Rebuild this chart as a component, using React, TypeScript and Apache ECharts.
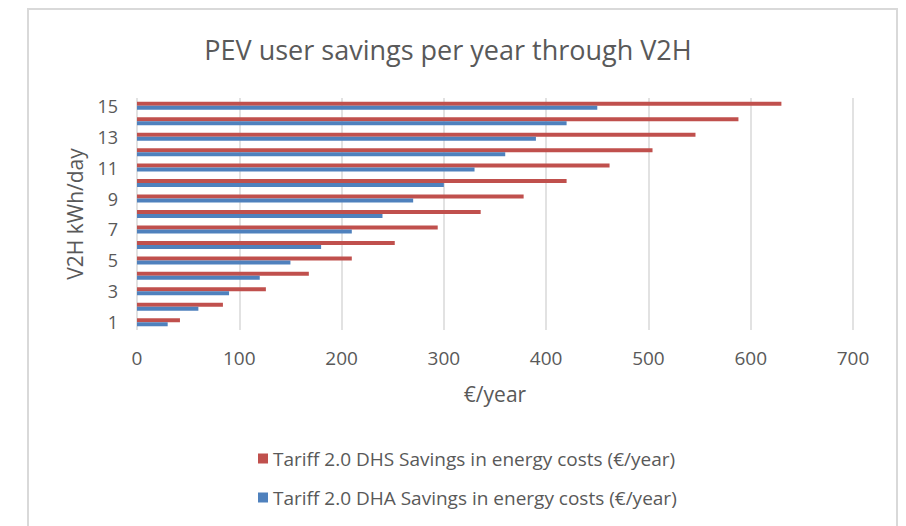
import React, { useEffect, useRef } from "react";
import * as echarts from "echarts";

const categories = ["1", "2", "3", "4", "5", "6", "7", "8", "9", "10", "11", "12", "13", "14", "15"];
const dhsSavings = [42, 84, 126, 168, 210, 252, 294, 336, 378, 420, 462, 504, 546, 588, 630];
const dhaSavings = [30, 60, 90, 120, 150, 180, 210, 240, 270, 300, 330, 360, 390, 420, 450];
const xTicks = [0, 100, 200, 300, 400, 500, 600, 700];

const DHS_NAME = "Tariff 2.0 DHS Savings in energy costs (€/year)";
const DHA_NAME = "Tariff 2.0 DHA Savings in energy costs (€/year)";

export default function App() {
  const ref = useRef<HTMLDivElement>(null);
  useEffect(() => {
    if (!ref.current) return;
    const chart = echarts.init(ref.current, null, { renderer: "svg" });
    const font = "'Open Sans', sans-serif";
    chart.setOption({
      animation: false,
      backgroundColor: "#ffffff",
      textStyle: { fontFamily: font },
      title: {
        text: "PEV user savings per year through V2H",
        left: 443,
        textAlign: "center",
        top: 31,
        textStyle: { fontSize: 27, fontWeight: "normal", color: "#595959", fontFamily: font },
      },
      graphic: [
        {
          type: "polyline",
          shape: { points: [[28, 540], [28, 9], [897, 9], [897, 540]] },
          style: { stroke: "#d9d9d9", lineWidth: 2, fill: "none" },
          silent: true,
        },
      ],
      legend: {
        orient: "vertical",
        left: 253,
        top: 444,
        itemWidth: 10,
        itemHeight: 10,
        itemGap: 20,
        icon: "rect",
        data: [DHS_NAME, DHA_NAME],
        textStyle: { fontSize: 19, color: "#595959", fontFamily: font },
      },
      grid: { left: 137, right: 53, top: 98, bottom: 196, containLabel: false },
      xAxis: {
        type: "value",
        min: 0,
        max: 700,
        interval: 100,
        name: "€/year",
        nameLocation: "middle",
        nameGap: 53,
        nameTextStyle: { fontSize: 21, color: "#595959", fontFamily: font },
        axisLine: { show: false },
        axisTick: { show: false },
        axisLabel: {
          fontSize: 19,
          color: "#595959",
          margin: 18,
          formatter: (v: number) => (xTicks.includes(v) ? String(v) : ""),
        },
        splitLine: { show: true, lineStyle: { color: "#d9d9d9", width: 1.5 } },
      },
      yAxis: {
        type: "category",
        data: categories,
        name: "V2H kWh/day",
        nameLocation: "middle",
        nameGap: 52,
        nameTextStyle: { fontSize: 21, color: "#595959", fontFamily: font },
        axisLine: { show: false },
        axisTick: { show: false },
        axisLabel: { fontSize: 18, color: "#595959", margin: 19, interval: 1 },
        splitLine: { show: false },
      },
      series: [
        {
          name: DHS_NAME,
          type: "bar",
          data: dhsSavings,
          barWidth: 4,
          barGap: "0%",
          itemStyle: { color: "#C0504D" },
        },
        {
          name: DHA_NAME,
          type: "bar",
          data: dhaSavings,
          barWidth: 4,
          barGap: "0%",
          itemStyle: { color: "#4F81BD" },
        },
      ],
    });
    return () => chart.dispose();
  }, []);
  return (
    <div
      ref={ref}
      style={{ position: "absolute", left: 0, top: 0, width: 906, height: 526 }}
    />
  );
}
